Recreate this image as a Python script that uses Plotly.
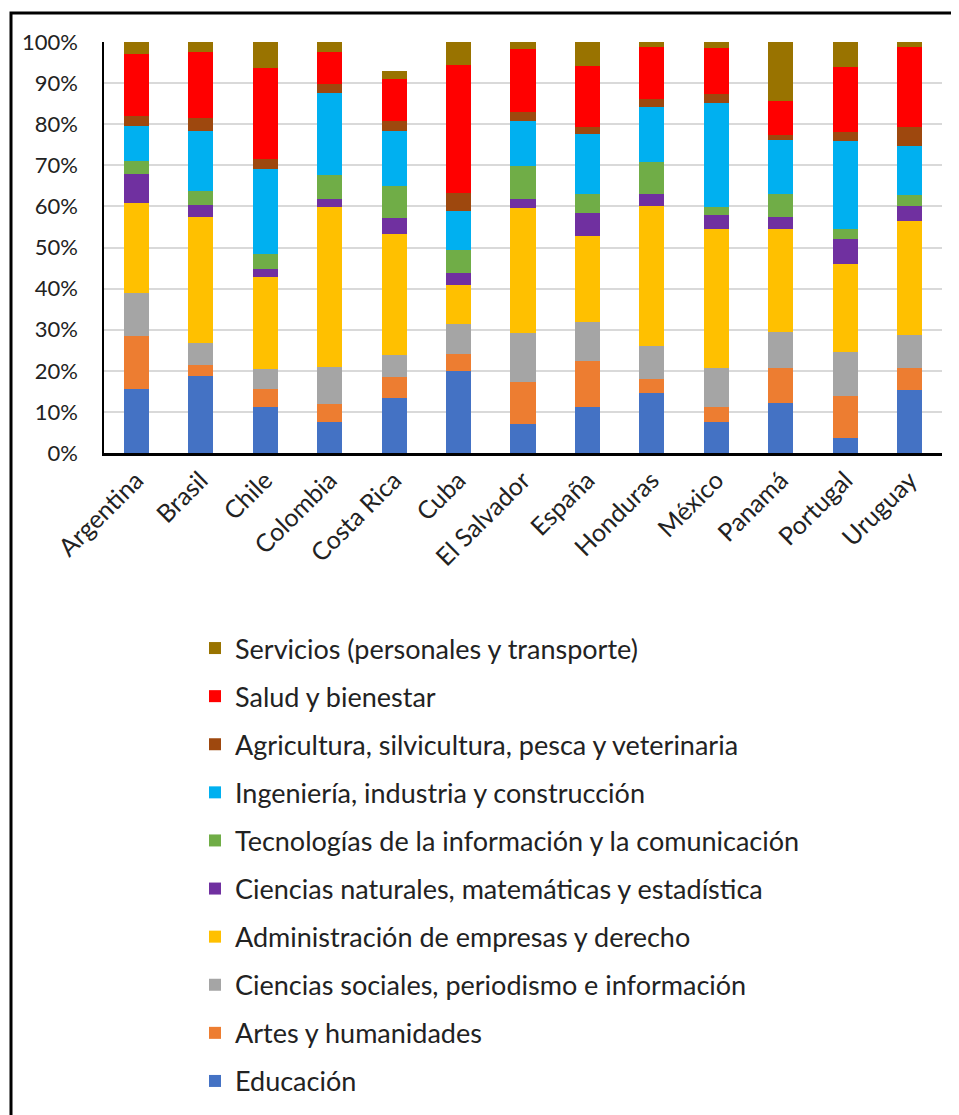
import plotly.graph_objects as go

paises = ["Argentina", "Brasil", "Chile", "Colombia", "Costa Rica", "Cuba", "El Salvador",
          "España", "Honduras", "México", "Panamá", "Portugal", "Uruguay"]

educacion = [15.6, 18.8, 11.3, 7.6, 13.5, 20.0, 7.0, 11.3, 14.7, 7.6, 12.2, 3.6, 15.4]
artes = [12.9, 2.5, 4.2, 4.4, 5.1, 4.1, 10.3, 11.2, 3.2, 3.7, 8.5, 10.3, 5.3]
sociales = [10.4, 5.4, 4.9, 9.0, 5.2, 7.4, 11.8, 9.4, 8.1, 9.4, 8.7, 10.6, 8.1]
administracion = [21.9, 30.8, 22.4, 38.9, 29.6, 9.3, 30.5, 20.8, 34.2, 33.9, 25.2, 21.4, 27.7]
naturales = [7.2, 2.8, 1.9, 1.9, 3.7, 3.0, 2.2, 5.6, 2.8, 3.4, 2.9, 6.2, 3.7]
tic = [3.1, 3.4, 3.7, 5.9, 7.8, 5.5, 8.1, 4.7, 7.8, 1.9, 5.5, 2.5, 2.5]
ingenieria = [8.5, 14.6, 20.8, 19.9, 13.4, 9.7, 10.9, 14.6, 13.4, 25.3, 13.1, 21.2, 11.9]
agricultura = [2.4, 3.1, 2.3, 2.3, 2.4, 4.3, 2.2, 1.6, 1.9, 2.2, 1.2, 2.2, 4.6]
salud = [15.0, 16.2, 22.1, 7.7, 10.3, 31.1, 15.3, 15.0, 12.8, 11.2, 8.4, 15.9, 19.7]
servicios = [3.0, 2.4, 6.4, 2.4, 1.9, 5.6, 1.7, 5.8, 1.1, 1.4, 14.3, 6.1, 1.1]

series = [
    ("Educación", educacion, "#4472C4"),
    ("Artes y humanidades", artes, "#ED7D31"),
    ("Ciencias sociales, periodismo e información", sociales, "#A5A5A5"),
    ("Administración de empresas y derecho", administracion, "#FFC000"),
    ("Ciencias naturales, matemáticas y estadística", naturales, "#7030A0"),
    ("Tecnologías de la información y la comunicación", tic, "#70AD47"),
    ("Ingeniería, industria y construcción", ingenieria, "#00B0F0"),
    ("Agricultura, silvicultura, pesca y veterinaria", agricultura, "#9E480E"),
    ("Salud y bienestar", salud, "#FF0000"),
    ("Servicios (personales y transporte)", servicios, "#997300"),
]

FONT = "Lato"
TXT = "#222222"

fig = go.Figure()
n = len(series)
for i, (name, vals, color) in enumerate(series):
    fig.add_trace(go.Bar(
        x=paises, y=vals, name=name, legendgroup=f"g{i}",
        legendrank=(n - i) * 10,
        marker=dict(color=color, line=dict(width=0)),
    ))

W, H = 959, 1115
OFF = 8  # page body margin
# target plot area on screen: x 104..942, y 42..453
L, R, T, B = 104 - OFF, W + OFF - 942, 42 - OFF, H + OFF - 453
pw, ph = 942 - 104, 453 - 42

def px(xs):
    return (xs - 104) / pw

def py(ys):
    return (453 - ys) / ph

fig.update_layout(
    width=W, height=H,
    margin=dict(l=L, r=R, t=T, b=B, pad=0),
    barmode="stack", bargap=0.61,
    plot_bgcolor="white", paper_bgcolor="white",
    font=dict(family=FONT, color=TXT),
    legend=dict(
        traceorder="grouped", tracegroupgap=10,
        x=px(195), xanchor="left", y=py(624), yanchor="top",
        font=dict(family=FONT, size=27, color=TXT),
        bgcolor="rgba(0,0,0,0)",
    ),
    xaxis=dict(
        tickangle=-45, tickfont=dict(size=25, color=TXT),
        showline=True, linecolor="black", linewidth=2.5,
        showgrid=False, ticks="",
    ),
    yaxis=dict(
        range=[0, 100], dtick=10, ticksuffix="%",
        tickfont=dict(size=22, color=TXT),
        showgrid=True, gridcolor="#D9D9D9", gridwidth=1.5,
        showline=True, linecolor="black", linewidth=1.5,
        zeroline=False, ticks="", ticklabelstandoff=20,
    ),
    shapes=[dict(
        type="rect", xref="paper", yref="paper",
        x0=px(11), x1=px(980), y0=py(1140), y1=py(13),
        line=dict(color="black", width=3), fillcolor="rgba(0,0,0,0)",
        layer="above",
    )],
)

fig.write_html("out.html")
